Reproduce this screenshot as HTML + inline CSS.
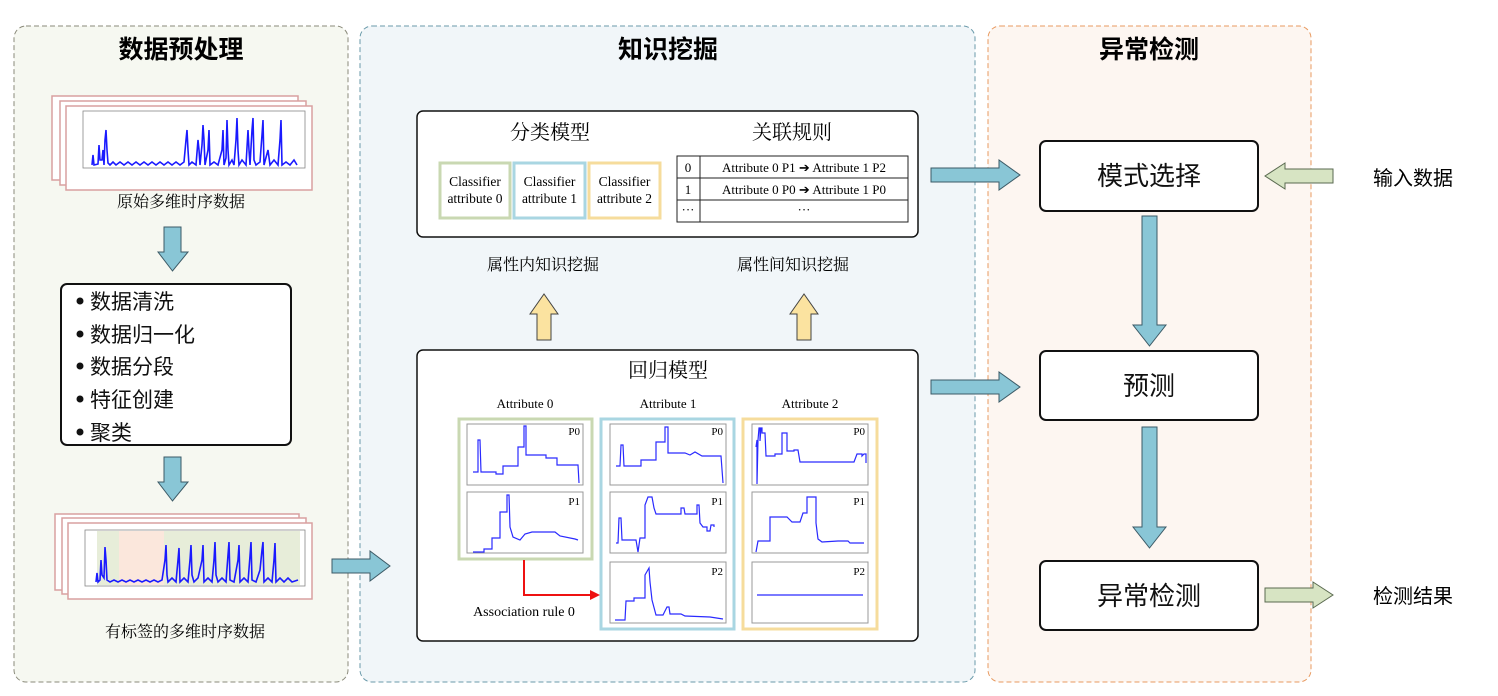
<!DOCTYPE html>
<html><head><meta charset="utf-8"><style>
html,body{margin:0;padding:0;background:#fff;}
svg{display:block;}
.t{font-family:"Liberation Sans","Noto Sans CJK SC",sans-serif;}
.s{font-family:"Liberation Serif","Noto Serif CJK SC",serif;}
</style></head><body>
<svg width="1498" height="696" viewBox="0 0 1498 696" xmlns="http://www.w3.org/2000/svg">
<rect x="14" y="26" width="334" height="656" rx="12" fill="#f6f8f1" stroke="#8a8a7a" stroke-dasharray="5,3"/>
<rect x="360" y="26" width="615" height="656" rx="12" fill="#f1f6f9" stroke="#6a9aaa" stroke-dasharray="5,3"/>
<rect x="988" y="26" width="323" height="656" rx="12" fill="#fdf6f1" stroke="#e89a60" stroke-dasharray="5,3"/>
<text x="181" y="58" class="t" font-size="25" font-weight="bold" text-anchor="middle">数据预处理</text>
<text x="668" y="58" class="t" font-size="25" font-weight="bold" text-anchor="middle">知识挖掘</text>
<text x="1149" y="58" class="t" font-size="25" font-weight="bold" text-anchor="middle">异常检测</text>

<rect x="52" y="96" width="246" height="84" fill="#fff" stroke="#d9a0a0" stroke-width="1.5"/>
<rect x="60" y="101" width="246" height="84" fill="#fff" stroke="#d9a0a0" stroke-width="1.5"/>
<line x1="90" y1="107" x2="300" y2="107" stroke="#4444ff" stroke-width="1.5" stroke-dasharray="2,5"/>
<rect x="66" y="106" width="246" height="84" fill="#fff" stroke="#d9a0a0" stroke-width="1.5"/>
<rect x="83" y="111" width="222" height="57" fill="#fff" stroke="#888" stroke-width="0.8"/>
<polyline fill="none" stroke="#1a1aff" stroke-width="1.6" points="92,165 93,155 94,165 98,164 99,145 100,160 102,160 103,150 104,165 105,140 106,130 107,150 108,163 110,165 113,162 116,165 120,162 124,165 128,162 132,165 136,162 140,165 144,162 148,165 152,162 156,165 160,162 164,165 168,162 172,165 176,162 180,165 184,162 186,140 187,130 188,150 189,165 192,162 196,165 198,140 199,150 200,165 202,145 203,125 204,140 205,165 208,150 209,130 210,165 214,162 218,165 222,150 223,130 224,165 226,158 227,120 228,150 229,165 232,160 234,165 236,140 237,118 238,150 239,165 242,160 246,165 248,130 249,150 250,165 252,130 253,118 254,160 256,165 260,162 262,135 263,120 264,165 268,150 270,165 274,160 278,165 280,140 281,120 282,165 286,162 290,165 294,160 297,165"/>
<text x="181" y="207" class="s" font-size="16" text-anchor="middle">原始多维时序数据</text>

<polygon points="164,227 181,227 181,252 188,252 172.5,271 158,252 164,252" fill="#89c6d6" stroke="#3c5a66" stroke-width="1"/>
<polygon points="164,457 181,457 181,482 188,482 172.5,501 158,482 164,482" fill="#89c6d6" stroke="#3c5a66" stroke-width="1"/>

<rect x="61" y="284" width="230" height="161" rx="6" fill="#fff" stroke="#111" stroke-width="2"/>
<g class="t" font-size="21" fill="#111">
<circle cx="80" cy="301" r="3.5"/><text x="90" y="309">数据清洗</text>
<circle cx="80" cy="334" r="3.5"/><text x="90" y="342">数据归一化</text>
<circle cx="80" cy="366" r="3.5"/><text x="90" y="374">数据分段</text>
<circle cx="80" cy="399" r="3.5"/><text x="90" y="407">特征创建</text>
<circle cx="80" cy="432" r="3.5"/><text x="90" y="440">聚类</text>
</g>

<rect x="55" y="514" width="244" height="76" fill="#fff" stroke="#d9a0a0" stroke-width="1.5"/>
<rect x="62" y="518" width="244" height="76" fill="#fff" stroke="#d9a0a0" stroke-width="1.5"/>
<line x1="90" y1="524" x2="300" y2="524" stroke="#4444ff" stroke-width="1.5" stroke-dasharray="2,5"/>
<rect x="68" y="523" width="244" height="76" fill="#fff" stroke="#d9a0a0" stroke-width="1.5"/>
<rect x="85" y="530" width="220" height="56" fill="#fff" stroke="#888" stroke-width="0.8"/>
<rect x="97" y="531" width="22" height="54" fill="#e7edd9"/>
<rect x="119" y="531" width="45" height="54" fill="#fbe7dc"/>
<rect x="164" y="531" width="136" height="54" fill="#e7edd9"/>
<polyline fill="none" stroke="#1a1aff" stroke-width="1.6" points="96,582 97,573 98,582 100,580 101,560 102,575 104,578 105,547 106,560 107,580 110,582 114,580 118,582 122,580 126,582 130,580 134,582 138,580 142,582 146,580 150,582 154,580 158,582 162,580 165,560 166,545 167,575 168,582 172,578 176,582 178,560 179,548 180,582 184,578 188,582 190,560 191,545 192,575 194,582 198,578 202,560 203,545 204,582 208,578 212,582 214,560 215,542 216,575 218,582 222,578 226,582 228,555 229,542 230,580 234,582 238,560 239,545 240,582 244,578 248,582 250,556 251,542 252,580 256,582 260,570 262,550 263,542 264,582 268,578 272,582 274,560 275,543 276,582 280,578 284,582 288,578 292,582 298,580"/>
<text x="185" y="637" class="s" font-size="16" text-anchor="middle">有标签的多维时序数据</text>

<polygon points="332,559 370,559 370,551 390,566 370,581 370,573 332,573" fill="#89c6d6" stroke="#3c5a66" stroke-width="1"/>

<rect x="417" y="111" width="501" height="126" rx="6" fill="#fff" stroke="#111" stroke-width="1.5"/>
<text x="550" y="139" class="s" font-size="20" text-anchor="middle">分类模型</text>
<text x="792" y="139" class="s" font-size="20" text-anchor="middle">关联规则</text>
<rect x="440" y="163" width="70" height="55" fill="#fff" stroke="#c9d8b2" stroke-width="3"/>
<rect x="514" y="163" width="71" height="55" fill="#fff" stroke="#a9d6e2" stroke-width="3"/>
<rect x="589" y="163" width="71" height="55" fill="#fff" stroke="#f6dc9c" stroke-width="3"/>
<g class="s" font-size="13.5" text-anchor="middle">
<text x="475" y="186">Classifier</text><text x="475" y="203">attribute 0</text>
<text x="549.5" y="186">Classifier</text><text x="549.5" y="203">attribute 1</text>
<text x="624.5" y="186">Classifier</text><text x="624.5" y="203">attribute 2</text>
</g>
<rect x="677" y="156" width="231" height="66" fill="#fff" stroke="#222" stroke-width="1"/>
<line x1="677" y1="178" x2="908" y2="178" stroke="#222"/>
<line x1="677" y1="200" x2="908" y2="200" stroke="#222"/>
<line x1="700" y1="156" x2="700" y2="222" stroke="#222"/>
<g class="s" font-size="13" text-anchor="middle">
<text x="688" y="172">0</text><text x="688" y="194">1</text><text x="688" y="214">···</text>
<text x="804" y="172">Attribute 0 P1 ➔ Attribute 1 P2</text>
<text x="804" y="194">Attribute 0 P0 ➔ Attribute 1 P0</text>
<text x="804" y="214">···</text>
</g>
<text x="543" y="270" class="s" font-size="16" text-anchor="middle">属性内知识挖掘</text>
<text x="793" y="270" class="s" font-size="16" text-anchor="middle">属性间知识挖掘</text>
<polygon points="537,340 551,340 551,314 558,314 544,294 530,314 537,314" fill="#fbe3a0" stroke="#444" stroke-width="1"/>
<polygon points="797,340 811,340 811,314 818,314 804,294 790,314 797,314" fill="#fbe3a0" stroke="#444" stroke-width="1"/>

<rect x="417" y="350" width="501" height="291" rx="6" fill="#fff" stroke="#111" stroke-width="1.5"/>
<text x="668" y="377" class="s" font-size="20" text-anchor="middle">回归模型</text>
<g class="s" font-size="13" text-anchor="middle">
<text x="525" y="408">Attribute 0</text><text x="668" y="408">Attribute 1</text><text x="810" y="408">Attribute 2</text>
</g>
<rect x="459" y="419" width="133" height="140" fill="#fff" stroke="#c9d8b2" stroke-width="3"/>
<rect x="601" y="419" width="133" height="210" fill="#fff" stroke="#a9d6e2" stroke-width="3"/>
<rect x="743" y="419" width="134" height="210" fill="#fff" stroke="#f6dc9c" stroke-width="3"/>
<g fill="#fff" stroke="#999" stroke-width="1">
<rect x="467" y="424" width="116" height="61"/><rect x="467" y="492" width="116" height="61"/>
<rect x="610" y="424" width="116" height="61"/><rect x="610" y="492" width="116" height="61"/><rect x="610" y="562" width="116" height="61"/>
<rect x="752" y="424" width="116" height="61"/><rect x="752" y="492" width="116" height="61"/><rect x="752" y="562" width="116" height="61"/>
</g>
<g class="s" font-size="11" text-anchor="end">
<text x="580" y="435">P0</text><text x="580" y="505">P1</text>
<text x="723" y="435">P0</text><text x="723" y="505">P1</text><text x="723" y="575">P2</text>
<text x="865" y="435">P0</text><text x="865" y="505">P1</text><text x="865" y="575">P2</text>
</g>
<g fill="none" stroke="#2a2aff" stroke-width="1.2">
<polyline points="473,472 478,472 478,440 480,440 481,472 485,472 496,472 496,474 503,474 503,466 518,466 518,447 524,447 524,426 526,426 526,455 546,455 546,458 557,458 557,465 578,465 579,483"/>
<polyline points="473,552 484,552 484,549 492,549 492,538 500,538 500,512 507,512 507,495 509,495 510,527 513,537 520,540 525,534 532,532 555,532 560,536 575,539 578,540"/>
<polyline points="616,466 620,466 621,445 623,445 624,466 636,466 641,466 641,460 656,460 656,442 665,442 665,427 668,427 668,453 685,453 690,455 695,452 702,456 721,456 723,483"/>
<polyline points="616,543 618,543 619,518 621,518 622,540 636,540 638,552 640,538 645,538 645,505 648,497 652,497 654,508 656,514 681,514 681,508 684,508 685,514 697,514 697,505 699,505 700,523 703,527 707,527 707,531 710,531 711,525 714,525 714,527"/>
<polyline points="615,620 625,620 626,601 634,601 634,598 645,598 645,575 649,568 650,582 652,600 656,615 663,615 667,607 669,607 670,614 681,614 685,616 710,617 723,619"/>
<polyline points="756,447 757,440 757,484 758,440 759,428 760,428 760,441 761,428 762,428 762,433 765,433 766,456 775,456 775,454 782,454 782,433 787,433 787,451 794,451 794,450 798,450 800,462 826,462 854,462 857,454 862,454 862,456 864,454 866,454 866,463"/>
<polyline points="756,552 758,541 770,541 770,517 787,517 792,522 800,522 803,513 807,513 807,497 816,497 816,523 818,539 822,542 838,541 848,541 850,543 864,543"/>
<line x1="757" y1="595" x2="863" y2="595"/>
</g>
<polyline points="524,560 524,595 591,595" fill="none" stroke="#ee1111" stroke-width="2"/>
<polygon points="590,590 600,595 590,600" fill="#ee1111"/>
<text x="524" y="616" class="s" font-size="14" text-anchor="middle">Association rule 0</text>

<polygon points="931,168 999,168 999,160 1020,175 999,190 999,182 931,182" fill="#89c6d6" stroke="#3c5a66" stroke-width="1"/>
<polygon points="931,380 999,380 999,372 1020,387 999,402 999,394 931,394" fill="#89c6d6" stroke="#3c5a66" stroke-width="1"/>

<rect x="1040" y="141" width="218" height="70" rx="6" fill="#fff" stroke="#111" stroke-width="2"/>
<rect x="1040" y="351" width="218" height="69" rx="6" fill="#fff" stroke="#111" stroke-width="2"/>
<rect x="1040" y="561" width="218" height="69" rx="6" fill="#fff" stroke="#111" stroke-width="2"/>
<g class="t" font-size="26" text-anchor="middle" fill="#111">
<text x="1149" y="185">模式选择</text><text x="1149" y="395">预测</text><text x="1149" y="605">异常检测</text>
</g>
<polygon points="1142,216 1157,216 1157,325 1166,325 1149.5,346 1133,325 1142,325" fill="#89c6d6" stroke="#3c5a66" stroke-width="1"/>
<polygon points="1142,427 1157,427 1157,527 1166,527 1149.5,548 1133,527 1142,527" fill="#89c6d6" stroke="#3c5a66" stroke-width="1"/>
<polygon points="1333,169 1285,169 1285,163 1265,176 1285,189 1285,183 1333,183" fill="#d7e4c3" stroke="#5a6a50" stroke-width="1"/>
<polygon points="1265,588 1313,588 1313,582 1333,595 1313,608 1313,602 1265,602" fill="#d7e4c3" stroke="#5a6a50" stroke-width="1"/>
<text x="1413" y="185" class="t" font-size="20" text-anchor="middle">输入数据</text>
<text x="1413" y="603" class="t" font-size="20" text-anchor="middle">检测结果</text>
</svg>
</body></html>
